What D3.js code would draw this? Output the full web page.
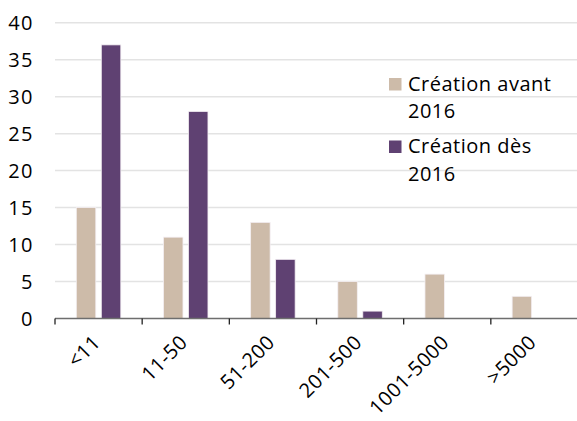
<!DOCTYPE html>
<html>
<head>
<meta charset="utf-8">
<script src="https://cdn.jsdelivr.net/npm/d3@7"></script>
<style>
  html, body { margin: 0; padding: 0; background: #fff; }
  svg text { font-family: "Open Sans", "Noto Sans", sans-serif; fill: #000; }
</style>
</head>
<body>
<svg id="chart" width="577" height="421"></svg>
<script>
// Company size classes and counts per creation period
const categories = ["<11", "11-50", "51-200", "201-500", "1001-5000", ">5000"];
const seriesNames = ["Création avant 2016", "Création dès 2016"];
const avant2016 = [15, 11, 13, 5, 6, 3];
const des2016 = [37, 28, 8, 1, 0, 0];
const yTicks = [0, 5, 10, 15, 20, 25, 30, 35, 40];
const colors = ["#cdbba9", "#5f4172"];

const svg = d3.select("#chart");
const margin = { left: 55, right: -1, top: 22.7, bottom: 102.5 };
const W = 577, H = 421;

const x = d3.scaleBand()
  .domain(categories)
  .range([margin.left, W - margin.right])
  .paddingInner(0).paddingOuter(0);

const y = d3.scaleLinear()
  .domain([0, 40])
  .range([H - margin.bottom, margin.top]);

// horizontal gridlines
svg.append("g")
  .selectAll("line")
  .data(yTicks.filter(d => d > 0))
  .join("line")
  .attr("x1", margin.left).attr("x2", W)
  .attr("y1", d => y(d)).attr("y2", d => y(d))
  .attr("stroke", "#e3e3e3").attr("stroke-width", 1.5);

// y axis labels
const yAxis = d3.axisLeft(y).tickValues(yTicks).tickSize(0).tickPadding(0);
const gy = svg.append("g").attr("transform", "translate(34,0)").call(yAxis);
gy.select(".domain").remove();
gy.selectAll("text")
  .style("font-size", "20px")
  .style("letter-spacing", "1.5px")
  .attr("dy", "0.36em");

// grouped bars
const x1 = d3.scaleBand()
  .domain([0, 1])
  .range([21.3, 65.8])
  .paddingInner(0.22);

const rows = categories.map((c, i) => ({ cat: c, vals: [avant2016[i], des2016[i]] }));

svg.append("g")
  .selectAll("g")
  .data(rows)
  .join("g")
  .attr("transform", d => `translate(${x(d.cat)},0)`)
  .selectAll("rect")
  .data(d => d.vals.map((v, k) => ({ v, k })).filter(e => e.v > 0))
  .join("rect")
  .attr("x", d => x1(d.k))
  .attr("width", x1.bandwidth())
  .attr("y", d => y(d.v))
  .attr("height", d => y(0) - y(d.v))
  .attr("fill", d => colors[d.k])
  .attr("stroke", "#f4eff3")
  .attr("stroke-width", 0.8);

// bottom axis line and boundary ticks
const gx = svg.append("g").attr("transform", `translate(0,${y(0)})`);
gx.append("line")
  .attr("x1", margin.left).attr("x2", W)
  .attr("stroke", "#6e6e6e").attr("stroke-width", 1.6);
gx.selectAll(".bound")
  .data(categories)
  .join("line")
  .attr("class", "bound")
  .attr("x1", d => x(d)).attr("x2", d => x(d))
  .attr("y1", 0).attr("y2", 6)
  .attr("stroke", "#222").attr("stroke-width", 1.3);

// rotated category labels
gx.selectAll(".lbl")
  .data(categories)
  .join("text")
  .attr("class", "lbl")
  .attr("text-anchor", "end")
  .style("font-size", "20px")
  .style("letter-spacing", "0.5px")
  .attr("transform", d => `translate(${x(d) + x.bandwidth() / 2 + 3},${25}) rotate(-45)`)
  .text(d => d);

// legend
const legend = svg.append("g").attr("transform", "translate(389,78)");
const legendLines = [["Création avant", "2016"], ["Création dès", "2016"]];
legendLines.forEach((lines, i) => {
  const g = legend.append("g").attr("transform", `translate(0,${i * 62.5})`);
  g.append("rect").attr("width", 12.5).attr("height", 12.5).attr("fill", colors[i]);
  g.append("text")
    .attr("x", 19).attr("y", 12.5)
    .style("font-size", "20px")
    .style("letter-spacing", "0.5px")
    .selectAll("tspan")
    .data(lines)
    .join("tspan")
    .attr("x", 19)
    .attr("dy", (d, j) => j === 0 ? 0 : 27.5)
    .text(d => d);
});
</script>
</body>
</html>
